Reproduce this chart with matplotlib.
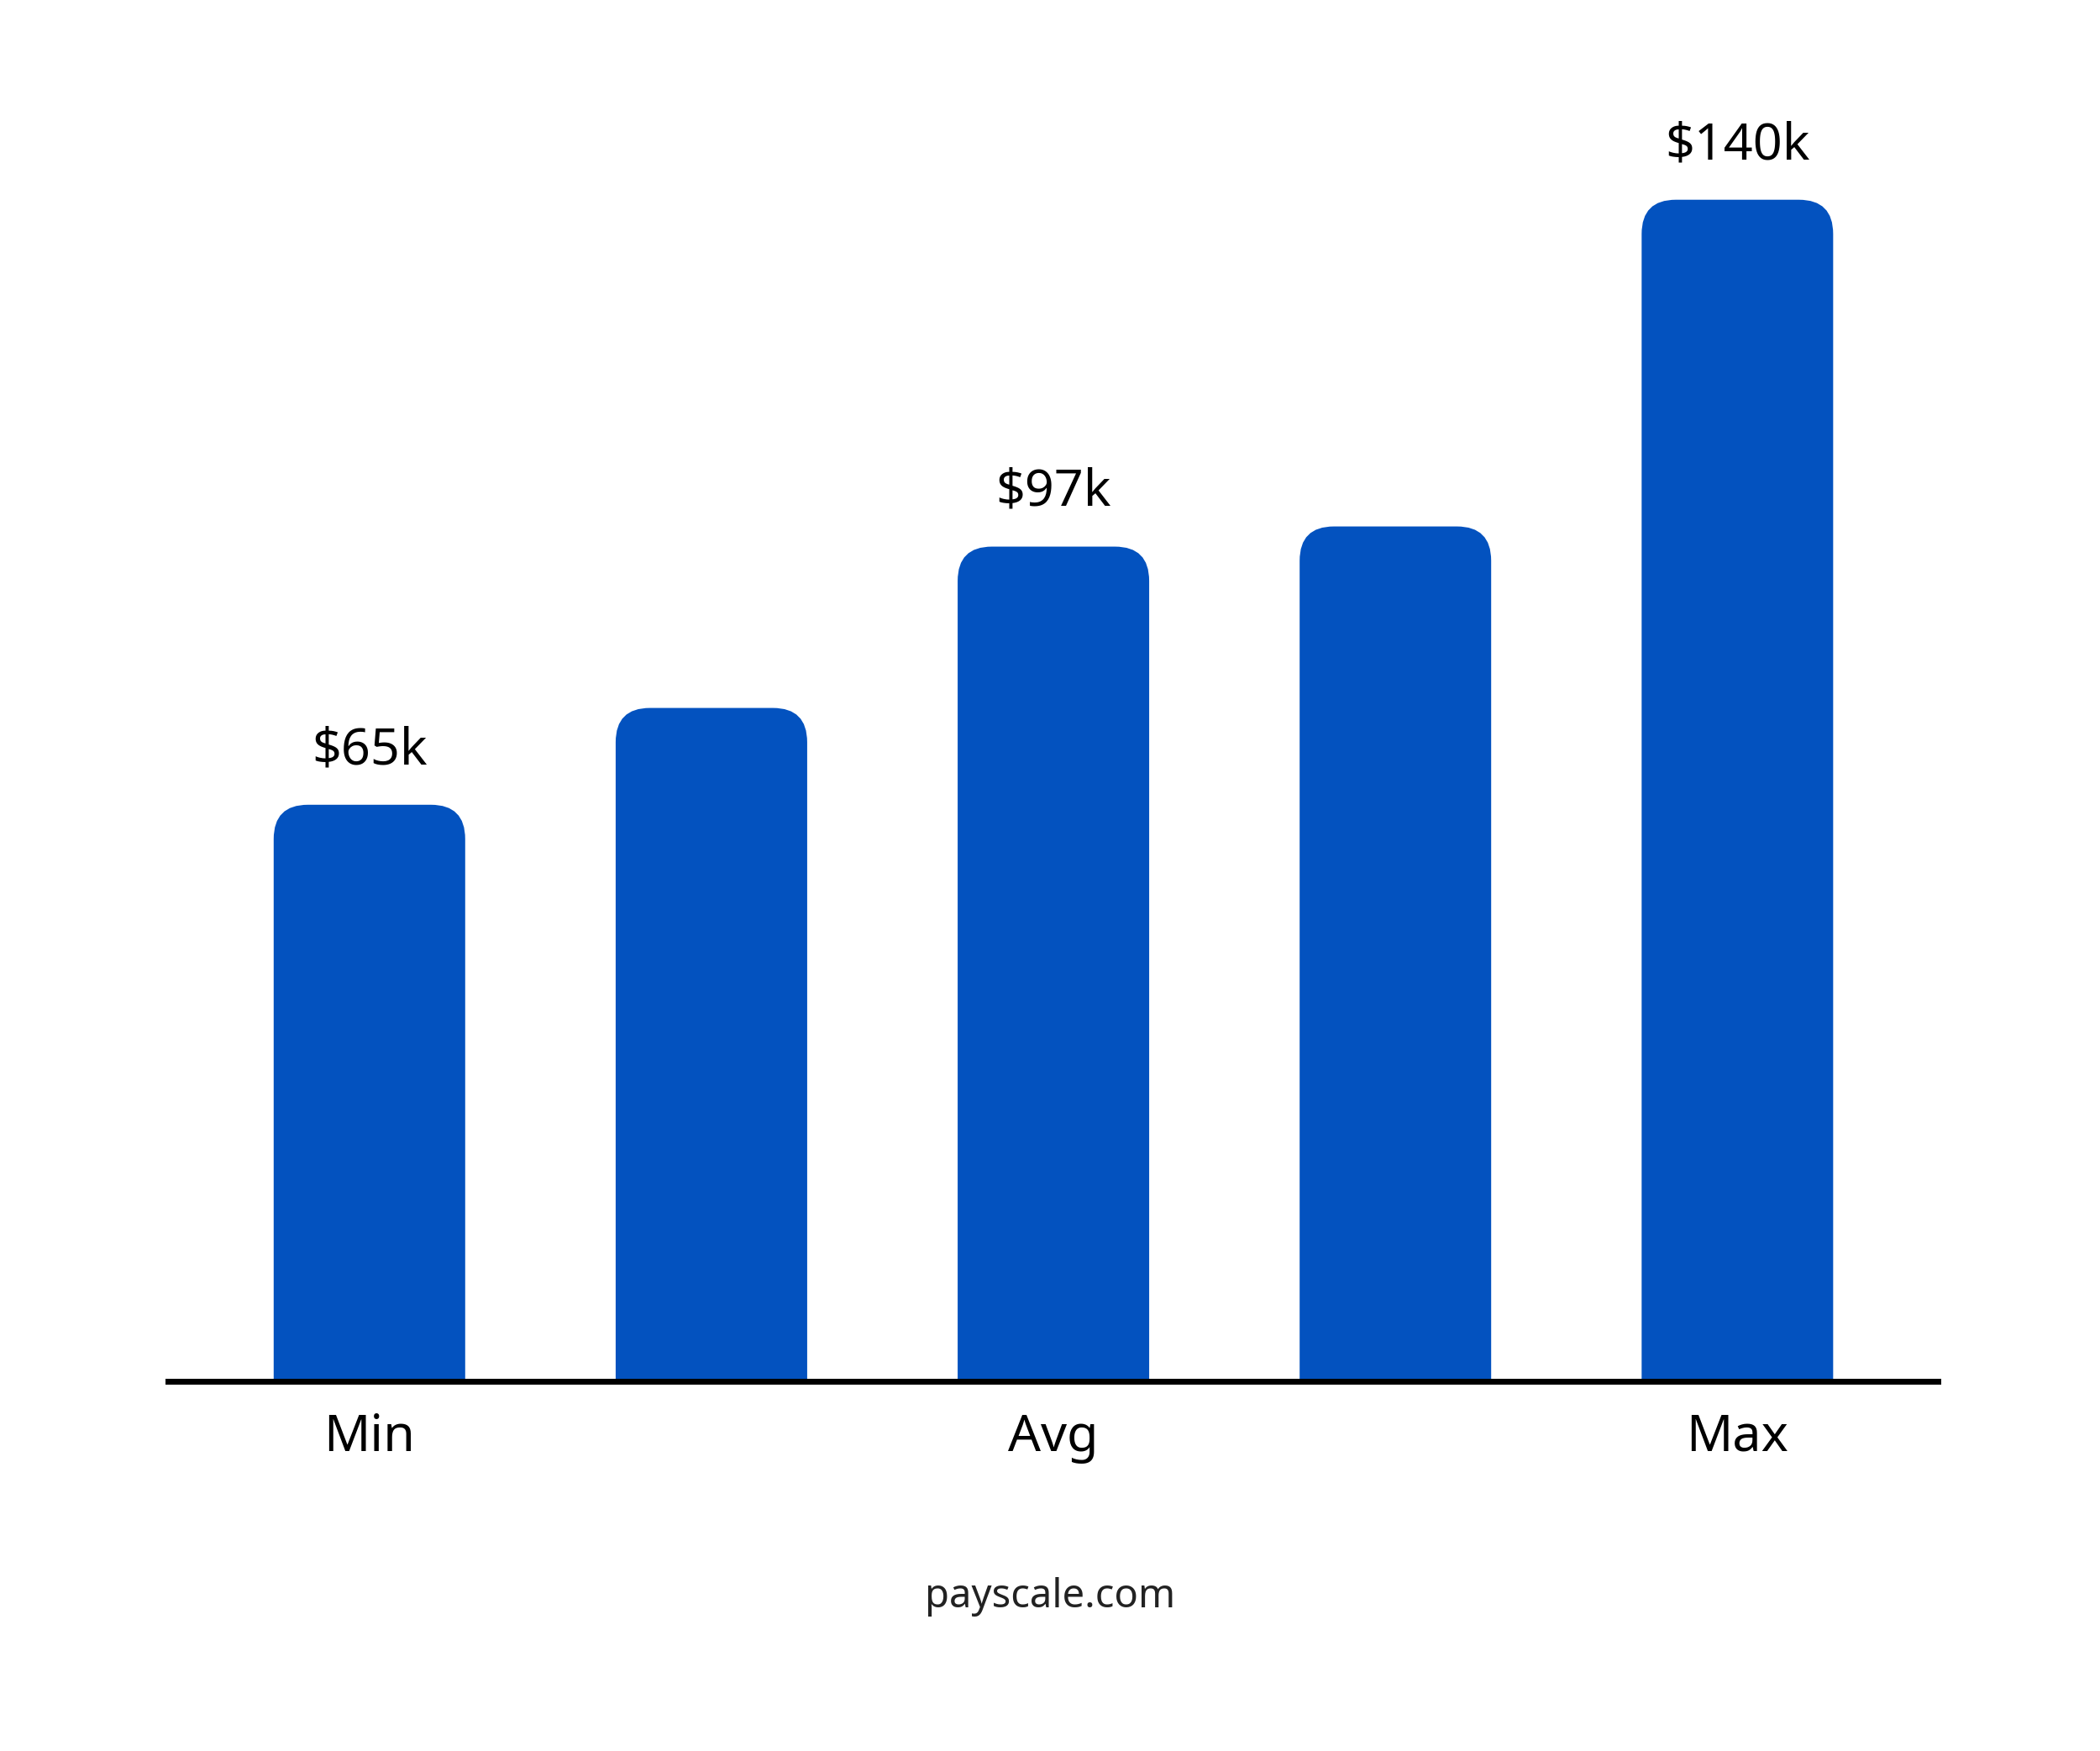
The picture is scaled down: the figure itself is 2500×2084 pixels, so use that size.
import matplotlib.pyplot as plt
from matplotlib.patches import FancyBboxPatch

values = [65, 77, 97, 99.5, 140]
value_labels = ["$65k", "", "$97k", "", "$140k"]
tick_labels = ["Min", "", "Avg", "", "Max"]
blue = "#0352bf"

plt.rcParams['font.family'] = ['Noto Sans', 'DejaVu Sans']
fig = plt.figure(figsize=(25, 20.84), dpi=100)
ax = fig.add_axes([0.08, 0.211, 0.8426, 0.721])
ax.set_xlim(-0.589, 4.585)
ax.set_ylim(-6.5, 150)
ax.axis('off')

# aspect of data units (y per x) in pixels, for round corners
bbox = ax.get_position()
px_x = bbox.width * 2500 / (4.585 + 0.589)
px_y = bbox.height * 2084 / 156.5
w = 0.56
r = 0.1
for i, v in enumerate(values):
    bottom = -6.5 - 10
    p = FancyBboxPatch((i - w / 2, bottom), w, v - bottom,
                       boxstyle=f"round,pad=0,rounding_size={r}",
                       mutation_aspect=px_x / px_y,
                       facecolor=blue, edgecolor='none', clip_on=True)
    ax.add_patch(p)
    if value_labels[i]:
        ax.text(i, v + 3.5, value_labels[i], ha='center', va='bottom',
                fontsize=44, fontweight='bold', color='black')
    if tick_labels[i]:
        ax.text(i, -13.5, tick_labels[i], ha='center', va='center',
                fontsize=44, fontweight='bold', color='black', clip_on=False)

ax.axhline(-6.5, color='black', lw=5, zorder=3, clip_on=False)
fig.text(0.5, 0.088, "payscale.com", ha='center', va='center',
         fontsize=34, color='#222222')
fig.savefig("out.png", dpi=100, facecolor='white')
